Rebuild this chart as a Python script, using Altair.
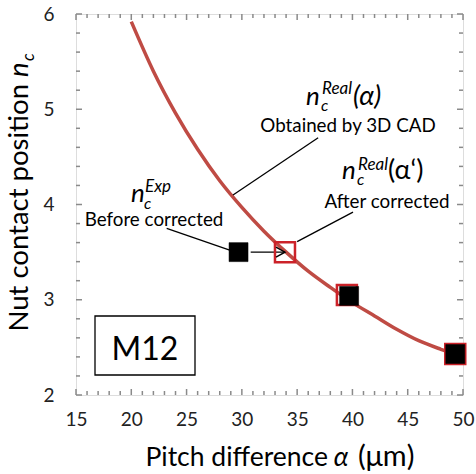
import altair as alt
import pandas as pd

# ---- data ----
curve_x = [20, 22, 24, 26, 28, 30, 32, 34, 36, 38, 40, 42, 44, 46, 48, 49.5]
curve_y = [5.92, 5.40, 4.96, 4.58, 4.25, 3.97, 3.72, 3.50, 3.30, 3.13, 2.97, 2.83, 2.69, 2.57, 2.48, 2.42]

exp_x = [29.7, 39.7, 49.3]
exp_y = [3.50, 3.04, 2.43]

real_x = [33.9, 39.5, 49.3]
real_y = [3.50, 3.05, 2.43]

x_major = [15, 20, 25, 30, 35, 40, 45, 50]
x_minor = [v for v in range(15, 51) if v % 5 != 0]
y_major = [2, 3, 4, 5, 6]
y_minor = [2.2, 2.4, 2.6, 2.8, 3.2, 3.4, 3.6, 3.8, 4.2, 4.4, 4.6, 4.8, 5.2, 5.4, 5.6, 5.8]

# leader lines (data units)
lead_x = [36.9, 40.05, 23.2, 30.8]
lead_y = [4.70, 3.92, 3.75, 3.50]
lead_x2 = [29.2, 35.0, 28.9, 33.9]
lead_y2 = [4.10, 3.61, 3.52, 3.50]

W, H = 387, 381
L, T = 76, 14
FONT = "Lato"

xscale = alt.Scale(domain=[15, 50], nice=False, zero=False)
yscale = alt.Scale(domain=[2, 6], nice=False, zero=False)
xaxis = alt.Axis(values=x_major, ticks=False, domain=False, grid=False, title=None,
                 labelFont=FONT, labelFontSize=19, labelColor="#222222", labelPadding=15,
                 labelFlush=False)
yaxis = alt.Axis(values=y_major, ticks=False, domain=False, grid=False, title=None,
                 labelFont=FONT, labelFontSize=19, labelColor="#222222", labelPadding=22)
X = alt.X("x:Q", scale=xscale, axis=xaxis)
Y = alt.Y("y:Q", scale=yscale, axis=yaxis)

curve_df = pd.DataFrame({"x": curve_x, "y": curve_y})
exp_df = pd.DataFrame({"x": exp_x, "y": exp_y})
real_df = pd.DataFrame({"x": real_x, "y": real_y})
lead_df = pd.DataFrame({"x": lead_x, "y": lead_y, "x2": lead_x2, "y2": lead_y2})

curve = alt.Chart(curve_df).mark_line(color="#bf4b44", strokeWidth=3.5, interpolate="monotone").encode(x=X, y=Y)

TICKC = "#8a8a8a"
def xticks(vals, length):
    d = pd.DataFrame({"x": vals})
    b = alt.Chart(d).mark_rule(color=TICKC, strokeWidth=1.5).encode(x=X, y=alt.value(H), y2=alt.value(H - length))
    t = alt.Chart(d).mark_rule(color=TICKC, strokeWidth=1.5).encode(x=X, y=alt.value(0), y2=alt.value(length))
    return [b, t]

def yticks(vals, length):
    d = pd.DataFrame({"y": vals})
    l = alt.Chart(d).mark_rule(color=TICKC, strokeWidth=1.5).encode(y=Y, x=alt.value(0), x2=alt.value(length))
    r = alt.Chart(d).mark_rule(color=TICKC, strokeWidth=1.5).encode(y=Y, x=alt.value(W), x2=alt.value(W - length))
    return [l, r]

ticks = xticks(x_major, 6) + xticks(x_minor, 4) + yticks(y_major, 6) + yticks(y_minor, 4)

leads = alt.Chart(lead_df).mark_rule(color="black", strokeWidth=1.3).encode(
    x=X, y=Y, x2="x2:Q", y2="y2:Q")

arrow_df = pd.DataFrame({"x": [lead_x2[3]], "y": [lead_y2[3]]})
arrowhead = alt.Chart(arrow_df).mark_point(
    shape="M-1,-0.55L0,0L-1,0.55", size=324, filled=False, stroke="black",
    strokeWidth=1.4, opacity=1).encode(x=X, y=Y)

real_pts = alt.Chart(real_df).mark_point(shape="square", size=400, filled=False,
                                          stroke="#cc2229", strokeWidth=2.5, opacity=1).encode(x=X, y=Y)
exp_pts = alt.Chart(exp_df).mark_point(shape="square", size=361, filled=True,
                                        fill="black", stroke="black", strokeWidth=0.5, opacity=1).encode(x=X, y=Y)

box = alt.Chart(pd.DataFrame({"k": [0]})).mark_rect(fill="white", stroke="black", strokeWidth=1.3).encode(
    x=alt.value(95 - L), x2=alt.value(195 - L), y=alt.value(316 - T), y2=alt.value(375 - T))

def txt(s, px, py, size, italic=False, align="left", angle=0):
    kw = dict(text=s, font=FONT, fontSize=size, align=align, baseline="alphabetic", color="black")
    if italic:
        kw["fontStyle"] = "italic"
    if angle:
        kw["angle"] = angle
    return alt.Chart(pd.DataFrame({"k": [0]})).mark_text(**kw).encode(
        x=alt.value(px - L), y=alt.value(py - T))

texts = [
    # n_c^Real(α)
    txt("n", 306, 105, 26, True),
    txt("c", 321, 111, 16, True),
    txt("Real", 322, 94, 17, True),
    txt("(α)", 353, 105, 27, True),
    txt("Obtained by 3D CAD", 348, 132, 18.8, align="center"),
    # n_c^Real(α')
    txt("n", 342, 179, 26, True),
    txt("c", 357, 185, 16, True),
    txt("Real", 358, 170, 17, True),
    txt("(α‘)", 388, 179, 27),
    txt("After corrected", 387, 208, 18.8, align="center"),
    # n_c^Exp
    txt("n", 131, 202, 26, True),
    txt("c", 144, 209, 16, True),
    txt("Exp", 145, 192, 17, True),
    txt("Before corrected", 154, 226, 18.8, align="center"),
    # M12
    txt("M12", 145, 360, 32, align="center"),
    # x title
    txt("Pitch difference", 328, 466, 26.5, align="right"),
    txt("α", 341, 466, 26.5, True, align="center"),
    txt("(μm)", 358, 466, 29),
    # y title
    txt("Nut contact position", 28, 84, 27.5, align="right", angle=270),
    txt("n", 28, 77, 27.5, True, align="left", angle=270),
    txt("c", 34, 61, 17, True, align="left", angle=270),
]

chart = alt.layer(curve, *ticks, leads, real_pts, exp_pts, arrowhead, box, *texts).properties(
    width=W, height=H,
    autosize=alt.AutoSizeParams(type="none"),
    padding={"left": L, "top": T, "right": 476 - L - W, "bottom": 474 - T - H},
).configure_view(stroke="#999999", strokeWidth=1.5).configure(background="white")

chart.save("out.html", embed_options={"renderer": "svg", "actions": False})
